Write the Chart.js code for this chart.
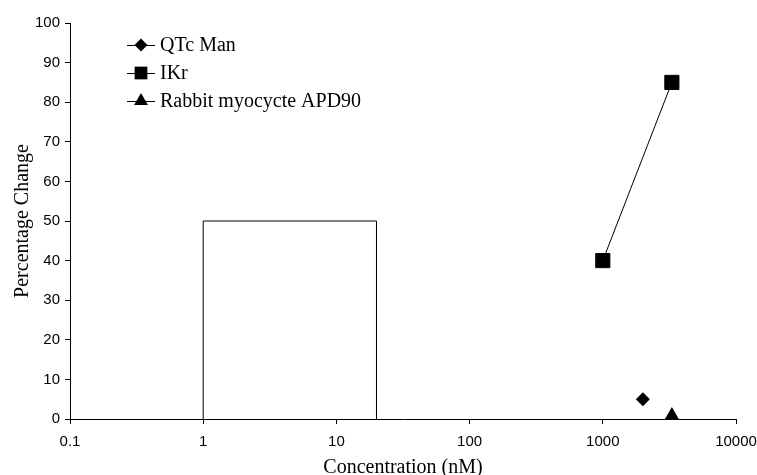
<!DOCTYPE html>
<html>
<head>
<meta charset="utf-8">
<script src="https://cdn.jsdelivr.net/npm/chart.js@4"></script>
<style>
    body { margin: 0; background: #fff; }
    #wrap { width: 757px; height: 475px; }
</style>
</head>
<body>
<div id="wrap"><canvas id="chartCanvas" width="757" height="475"></canvas></div>
<script>
// ==================== DATA ====================
const xTicks = [0.1, 1, 10, 100, 1000, 10000];
const xTickLabels = ['0.1', '1', '10', '100', '1000', '10000'];
const seriesNames = ['QTc Man', 'IKr', 'Rabbit myocycte APD90'];
const qtcX = [2000];
const qtcY = [5];
const ikrX = [1000, 3300];
const ikrY = [40, 85];
const rabbitX = [3300];
const rabbitY = [1];
// open box (concentration range)
const boxX = [1, 1, 20, 20];
const boxY = [0, 50, 50, 0];

const toPts = (xs, ys) => xs.map((x, i) => ({ x: x, y: ys[i] }));
const SERIF = "'Liberation Serif', 'Times New Roman', serif";
const SANS = "'Liberation Sans', Arial, sans-serif";

// legend: line with the marker in the middle, like the office style
const legendItems = [
    { label: seriesNames[0], style: 'rectRot', radius: 6.5 },
    { label: seriesNames[1], style: 'rect', radius: 9 },
    { label: seriesNames[2], style: 'triangle', radius: 8 }
];
const officeLegend = {
    id: 'officeLegend',
    afterDraw(chart) {
        const ctx = chart.ctx;
        ctx.save();
        legendItems.forEach((it, i) => {
            const y = 45 + i * 28;
            ctx.strokeStyle = '#000';
            ctx.lineWidth = 1;
            ctx.beginPath();
            ctx.moveTo(127, y + 0.5);
            ctx.lineTo(155, y + 0.5);
            ctx.stroke();
            ctx.fillStyle = '#000';
            Chart.helpers.drawPoint(ctx, { pointStyle: it.style, radius: it.radius, rotation: 0, borderWidth: 0 }, 141, y);
            ctx.fillStyle = '#000';
            ctx.font = '20px ' + SERIF;
            ctx.textBaseline = 'middle';
            ctx.fillText(it.label, 160, y + 1);
        });
        ctx.restore();
    }
};

const axisCommon = {
    border: { display: true, color: '#000', width: 1 },
    grid: { display: true, drawOnChartArea: false, drawTicks: true, tickLength: 5, color: '#000' }
};

new Chart(document.getElementById('chartCanvas').getContext('2d'), {
    type: 'scatter',
    data: {
        datasets: [
            { label: 'box', data: toPts(boxX, boxY), showLine: true, borderColor: '#000', borderWidth: 1, pointRadius: 0, fill: false },
            { label: seriesNames[0], data: toPts(qtcX, qtcY), pointStyle: 'rectRot', pointRadius: 7, backgroundColor: '#000', borderColor: '#000', borderWidth: 0 },
            { label: seriesNames[1], data: toPts(ikrX, ikrY), showLine: true, pointStyle: 'rect', pointRadius: 10, backgroundColor: '#000', borderColor: '#000', borderWidth: 1 },
            { label: seriesNames[2], data: toPts(rabbitX, rabbitY), pointStyle: 'triangle', pointRadius: 8, backgroundColor: '#000', borderColor: '#000', borderWidth: 0 }
        ]
    },
    options: {
        responsive: false,
        animation: false,
        layout: { padding: { left: 11, right: 21, top: 23, bottom: 0 } },
        plugins: { legend: { display: false }, tooltip: { enabled: false } },
        scales: {
            x: {
                type: 'logarithmic',
                min: 0.1,
                max: 10000,
                ...axisCommon,
                afterBuildTicks: (axis) => { axis.ticks = xTicks.map(v => ({ value: v })); },
                afterFit: (scale) => { scale.height = 56; scale.paddingLeft = 0; scale.paddingRight = 0; },
                ticks: {
                    autoSkip: false, maxRotation: 0, padding: 9, color: '#000',
                    font: { family: SANS, size: 15 },
                    callback: (v) => { const i = xTicks.indexOf(v); return i >= 0 ? xTickLabels[i] : ''; }
                },
                title: { display: true, text: 'Concentration (nM)', color: '#000', font: { family: SERIF, size: 20, lineHeight: 1 }, padding: { top: 0, bottom: -3 } }
            },
            y: {
                min: 0,
                max: 100,
                ...axisCommon,
                afterFit: (scale) => { scale.width = 59; },
                ticks: { stepSize: 10, padding: 5, color: '#000', font: { family: SANS, size: 15 } },
                title: { display: true, text: 'Percentage Change', color: '#000', font: { family: SERIF, size: 20 }, padding: { top: 0, bottom: 0 } }
            }
        }
    },
    plugins: [officeLegend]
});
</script>
</body>
</html>
